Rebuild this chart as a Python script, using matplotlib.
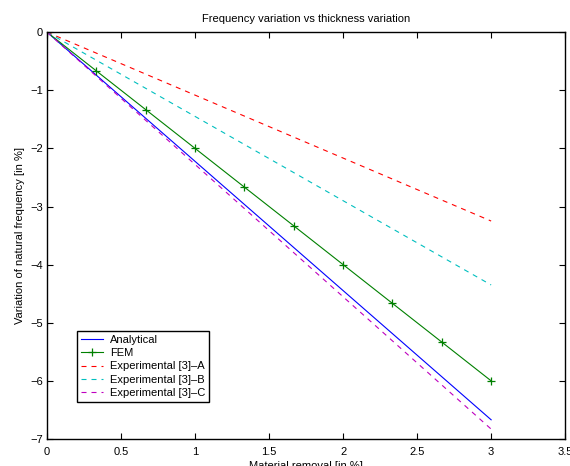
import matplotlib
matplotlib.use("Agg")
import matplotlib.pyplot as plt

# ---- data -------------------------------------------------------------
fem_x = [0, 1/3, 2/3, 1, 4/3, 5/3, 2, 7/3, 8/3, 3]
fem_y = [0, -0.667, -1.333, -2.0, -2.667, -3.333, -4.0, -4.667, -5.333, -6.0]

line_x = [0, 3]
analytical_y = [0, -6.67]
exp_a_y = [0, -3.25]
exp_b_y = [0, -4.35]
exp_c_y = [0, -6.83]

x_ticks = [0, 0.5, 1, 1.5, 2, 2.5, 3, 3.5]
y_ticks = [-7, -6, -5, -4, -3, -2, -1, 0]

plt.rcParams["font.family"] = ["Liberation Sans", "DejaVu Sans"]
plt.rcParams["font.size"] = 8

fig = plt.figure(figsize=(5.70, 4.66), dpi=100)
ax = fig.add_axes([0.0825, 0.058, 0.909, 0.873])

dash = (4.5, 4.5)
ax.plot(line_x, analytical_y, color="blue", lw=0.8, label="Analytical")
ax.plot(fem_x, fem_y, color=(0, 0.5, 0), lw=0.8, marker="+", ms=6,
        mew=0.9, label="FEM")
ax.plot(line_x, exp_a_y, color="red", lw=0.8, dashes=dash,
        label="Experimental [3]\u2013A")
ax.plot(line_x, exp_b_y, color=(0, 0.75, 0.75), lw=0.8, dashes=dash,
        label="Experimental [3]\u2013B")
ax.plot(line_x, exp_c_y, color=(0.75, 0, 0.75), lw=0.8, dashes=dash,
        label="Experimental [3]\u2013C")

ax.set_xlim(0, 3.5)
ax.set_ylim(-7, 0)
ax.set_xticks(x_ticks)
ax.set_xticklabels([f"{t:g}" for t in x_ticks])
ax.set_yticks(y_ticks)
ax.set_yticklabels([f"{t:g}".replace("-", "\u2212") for t in y_ticks])
ax.tick_params(direction="in", length=4, width=0.8, top=True, right=True,
               pad=3)
ax.tick_params(axis="x", pad=5.5)
for s in ax.spines.values():
    s.set_linewidth(1.0)

ax.set_title("Frequency variation vs thickness variation", fontsize=8, pad=7)
ax.set_xlabel("Material removal [in %]", labelpad=3.5)
ax.set_ylabel("Variation of natural frequency [in %]", labelpad=4)

leg = ax.legend(loc="lower left", bbox_to_anchor=(0.058, 0.091),
                borderaxespad=0, fancybox=False, framealpha=1,
                edgecolor="black", handlelength=2.0, handletextpad=0.6,
                labelspacing=0.3, borderpad=0.35, fontsize=8)
leg.get_frame().set_linewidth(1.0)

fig.savefig("out.png", dpi=100)
